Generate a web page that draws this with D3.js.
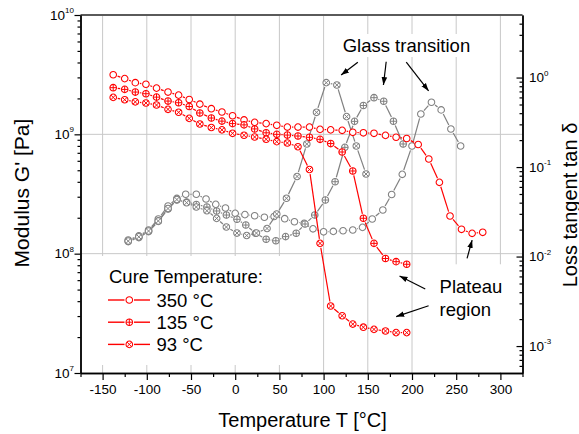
<!DOCTYPE html>
<html>
<head>
<meta charset="utf-8">
<script src="https://cdn.jsdelivr.net/npm/d3@7"></script>
<style>
  body { margin: 0; background: #fff; }
  svg { display: block; font-family: "Liberation Sans", Arial, sans-serif; }
</style>
</head>
<body>
<div id="chart"></div>
<script>
// storage modulus G' [Pa] (left axis) per cure temperature
const modTemp350 = [-138, -125, -113, -101, -89, -76, -64, -52, -40, -27, -15, -3, 10, 22, 35, 47, 59, 71,
  84, 96, 108, 121, 133, 145, 157, 170, 182, 194, 207, 219, 231, 243, 256, 268, 280];
const modG350 = [3.16e9, 2.93e9, 2.71e9, 2.63e9, 2.44e9, 2.26e9, 2.13e9, 1.96e9, 1.79e9, 1.64e9, 1.54e9,
  1.43e9, 1.32e9, 1.26e9, 1.23e9, 1.19e9, 1.15e9, 1.15e9, 1.15e9, 1.10e9, 1.09e9, 1.08e9, 1.04e9, 1.03e9,
  1.02e9, 9.8e8, 9.46e8, 9.23e8, 8.22e8, 6.21e8, 3.96e8, 2.07e8, 1.60e8, 1.48e8, 1.51e8];

const modTemp135 = [-138, -125, -113, -101, -89, -76, -64, -52, -40, -27, -15, -3, 10, 22, 35, 47, 59, 71,
  84, 96, 108, 121, 133, 145, 157, 170, 182, 194];
const modG135 = [2.46e9, 2.38e9, 2.26e9, 2.19e9, 2.05e9, 1.90e9, 1.84e9, 1.71e9, 1.51e9, 1.37e9, 1.29e9,
  1.23e9, 1.20e9, 1.11e9, 1.03e9, 1.00e9, 9.86e8, 9.68e8, 9.44e8, 9.08e8, 8.37e8, 7.11e8, 4.93e8, 1.98e8,
  1.22e8, 9.11e7, 8.57e7, 8.15e7];

const modTemp93 = [-138, -125, -113, -101, -89, -76, -64, -52, -40, -27, -15, -3, 10, 22, 35, 47, 59, 71,
  84, 96, 108, 121, 133, 145, 157, 170, 182, 194];
const modG93 = [2.04e9, 1.95e9, 1.87e9, 1.83e9, 1.76e9, 1.62e9, 1.53e9, 1.36e9, 1.22e9, 1.14e9, 1.09e9,
  1.02e9, 9.82e8, 9.50e8, 9.09e8, 8.68e8, 8.46e8, 7.87e8, 5.07e8, 1.22e8, 3.64e7, 3.02e7, 2.57e7, 2.42e7,
  2.32e7, 2.25e7, 2.18e7, 2.18e7];

// loss tangent tan delta (right axis)
const tanTemp350 = [-121, -109, -98, -87, -76, -66, -56, -44, -33, -22, -11, 0, 11, 22, 33, 44, 56, 67,
  78, 88, 100, 111, 122, 133, 144, 155, 167, 177, 189, 200, 210, 222, 233, 244, 255];
const tan350 = [0.0153, 0.0170, 0.0198, 0.0263, 0.0367, 0.0446, 0.0497, 0.0497, 0.0440, 0.0383, 0.0349,
  0.0304, 0.0294, 0.0286, 0.0275, 0.0280, 0.0265, 0.0245, 0.0235, 0.0204, 0.0189, 0.0191, 0.0194, 0.0198,
  0.0212, 0.0263, 0.0331, 0.0493, 0.0829, 0.172, 0.392, 0.530, 0.435, 0.266, 0.172];

const tanTemp135 = [-121, -109, -98, -87, -76, -66, -55, -44, -32, -21, -10, 2, 12, 23, 35, 46, 57, 69,
  79, 90, 102, 113, 124, 135, 145, 157, 168, 179, 190];
const tan135 = [0.0147, 0.0163, 0.0190, 0.0247, 0.0340, 0.0428, 0.0407, 0.0382, 0.0358, 0.0323, 0.0291,
  0.0261, 0.0225, 0.0182, 0.0156, 0.0150, 0.0167, 0.0182, 0.0231, 0.0291, 0.0428, 0.0686, 0.166, 0.324,
  0.487, 0.596, 0.543, 0.325, 0.181];

const tanTemp93 = [-121, -109, -98, -87, -76, -66, -55, -44, -32, -21, -10, 2, 13, 24, 36, 47, 58, 70,
  81, 92, 103, 115, 126, 137, 148];
const tan93 = [0.0149, 0.0166, 0.0193, 0.0250, 0.0344, 0.0434, 0.0400, 0.0358, 0.0325, 0.0267, 0.0214,
  0.0183, 0.0172, 0.0183, 0.0206, 0.0299, 0.0448, 0.0785, 0.181, 0.409, 0.877, 0.826, 0.366, 0.172, 0.0836];

// axes
const tempTicks = [-150, -100, -50, 0, 50, 100, 150, 200, 250, 300];
const tempMinorTicks = [-175, -125, -75, -25, 25, 75, 125, 175, 225, 275, 325];
const modTicks = [1e7, 1e8, 1e9, 1e10];
const modExponents = ["7", "8", "9", "10"];
const tanTicks = [1e-3, 1e-2, 1e-1, 1];
const tanExponents = ["-3", "-2", "-1", "0"];

const legendTitle = "Cure Temperature:";
const legendLabels = ["350 °C", "135 °C", "93 °C"];

// annotations: [T start, G start, T end, G end]
const glassArrows = [[138.7, 4.02e9, 119.8, 3.14e9], [170.8, 4.06e9, 167.7, 2.59e9], [193.5, 4.02e9, 218.8, 2.31e9]];
const plateauArrows = [[215.0, 5.06e7, 185.9, 6.5e7], [218.8, 3.66e7, 182.1, 2.97e7], [262.3, 9.14e7, 268.0, 1.30e8]];

const W = 579, H = 434;
const red = "#ff0000", gray = "#808080";

const svg = d3.select("#chart").append("svg").attr("width", W).attr("height", H);

const x = d3.scaleLinear().domain([-175, 325]).range([80.5, 522.5]);
const yG = d3.scaleLog().domain([1e7, 1e10]).range([373, 15]);
const yTan = d3.scaleLog().domain([5e-4, 5]).range([373, 15]);

// grid
const grid = svg.append("g");
grid.selectAll("line.v").data(tempTicks).join("line")
  .attr("x1", d => x(d)).attr("x2", d => x(d)).attr("y1", 15).attr("y2", 373)
  .attr("stroke", "#c8c8c8").attr("stroke-width", 1);
grid.selectAll("line.h").data([1e8, 1e9]).join("line")
  .attr("x1", 80.5).attr("x2", 522.5).attr("y1", d => yG(d)).attr("y2", d => yG(d))
  .attr("stroke", "#c8c8c8").attr("stroke-width", 1);

// legend background hides grid
svg.append("rect").attr("x", 82).attr("y", 256).attr("width", 218).attr("height", 109).attr("fill", "#fff");

const annot = svg.append("g");

// axes
svg.append("line").attr("x1", 80.5).attr("x2", 522.5).attr("y1", 15).attr("y2", 15)
  .attr("stroke", "#5a5a5a").attr("stroke-width", 2);

function styleAxis(g) {
  g.select(".domain").attr("stroke", "#000").attr("stroke-width", 1.4);
  g.selectAll(".tick line").attr("stroke", "#000").attr("stroke-width", 1.2);
}

const xAxis = svg.append("g").attr("transform", "translate(0,373)")
  .call(d3.axisBottom(x).tickValues(tempTicks).tickSize(7).tickSizeOuter(0).tickFormat(d => String(d)))
  .call(styleAxis);
xAxis.selectAll("text").attr("y", 21).attr("dy", null)
  .attr("font-size", 13.5).attr("fill", "#000");
svg.append("g").attr("transform", "translate(0,373)")
  .call(d3.axisBottom(x).tickValues(tempMinorTicks).tickSize(4).tickSizeOuter(0).tickFormat(""))
  .call(styleAxis);

const modMinor = yG.ticks().filter(d => !modTicks.includes(d));
svg.append("g").attr("transform", "translate(80.5,0)")
  .call(d3.axisLeft(yG).tickValues(modMinor).tickSize(3).tickSizeOuter(0).tickFormat(""))
  .call(styleAxis);
svg.append("g").attr("transform", "translate(80.5,0)")
  .call(d3.axisLeft(yG).tickValues(modTicks).tickSize(6).tickSizeOuter(0).tickFormat(""))
  .call(styleAxis);

const tanMinor = yTan.ticks().filter(d => !tanTicks.includes(d) && d > 5e-4 && d < 5);
svg.append("g").attr("transform", "translate(522.5,0)")
  .call(d3.axisRight(yTan).tickValues(tanMinor).tickSize(-3).tickSizeOuter(0).tickFormat(""))
  .call(styleAxis);
svg.append("g").attr("transform", "translate(522.5,0)")
  .call(d3.axisRight(yTan).tickValues(tanTicks).tickSize(-6).tickSizeOuter(0).tickFormat(""))
  .call(styleAxis);

// power-of-ten labels
modTicks.forEach((v, i) => {
  const t = svg.append("text").attr("x", 74).attr("y", yG(v) + 4.5)
    .attr("text-anchor", "end").attr("font-size", 13.5);
  t.append("tspan").text("10");
  t.append("tspan").attr("font-size", 8).attr("dy", -6.5).text(modExponents[i]);
});
tanTicks.forEach((v, i) => {
  const t = svg.append("text").attr("x", 529).attr("y", yTan(v) + 4.5).attr("font-size", 13.5);
  t.append("tspan").text("10");
  t.append("tspan").attr("font-size", 8).attr("dy", -6.5).text(tanExponents[i]);
});

// axis titles
svg.append("text").attr("x", 302.5).attr("y", 427).attr("text-anchor", "middle")
  .attr("font-size", 20).text("Temperature T [°C]");
svg.append("text").attr("transform", "translate(28.5,193) rotate(-90)").attr("text-anchor", "middle")
  .attr("font-size", 21).text("Modulus G' [Pa]");
svg.append("text").attr("transform", "translate(576.5,205) rotate(-90)").attr("text-anchor", "middle")
  .attr("font-size", 20).text("Loss tangent tan δ");

// markers
const R = 3.3;
function drawMarker(g, shape, color) {
  g.append("circle").attr("r", R).attr("fill", "#fff").attr("stroke", color).attr("stroke-width", 1.05);
  if (shape === "plus") {
    g.append("path").attr("d", `M${-R},0H${R}M0,${-R}V${R}`).attr("stroke", color).attr("stroke-width", 1);
  } else if (shape === "cross") {
    const c = R * 0.72;
    g.append("path").attr("d", `M${-c},${-c}L${c},${c}M${-c},${c}L${c},${-c}`)
      .attr("stroke", color).attr("stroke-width", 1);
  }
}

function drawSeries(temps, vals, yScale, color, shape) {
  const g = svg.append("g");
  const pts = temps.map((t, i) => [x(t), yScale(vals[i])]);
  const gap = 4.6;
  const segs = d3.pairs(pts).map(([a, b]) => {
    const dx = b[0] - a[0], dy = b[1] - a[1], len = Math.hypot(dx, dy);
    if (len <= 2 * gap) return null;
    const ux = dx / len, uy = dy / len;
    return [a[0] + ux * gap, a[1] + uy * gap, b[0] - ux * gap, b[1] - uy * gap];
  }).filter(Boolean);
  g.selectAll("line").data(segs).join("line")
    .attr("x1", d => d[0]).attr("y1", d => d[1]).attr("x2", d => d[2]).attr("y2", d => d[3])
    .attr("stroke", color).attr("stroke-width", 1.2);
  g.selectAll("g.mk").data(pts).join("g").attr("class", "mk")
    .attr("transform", d => `translate(${d[0]},${d[1]})`)
    .each(function () { drawMarker(d3.select(this), shape, color); });
}

drawSeries(tanTemp350, tan350, yTan, gray, "circle");
drawSeries(tanTemp135, tan135, yTan, gray, "plus");
drawSeries(tanTemp93, tan93, yTan, gray, "cross");
drawSeries(modTemp350, modG350, yG, red, "circle");
drawSeries(modTemp135, modG135, yG, red, "plus");
drawSeries(modTemp93, modG93, yG, red, "cross");

// annotations
svg.append("defs").append("marker").attr("id", "arrow")
  .attr("viewBox", "0 0 10 10").attr("refX", 10).attr("refY", 5)
  .attr("markerWidth", 8).attr("markerHeight", 8).attr("markerUnits", "userSpaceOnUse")
  .attr("orient", "auto")
  .append("path").attr("d", "M0,1.5L10,5L0,8.5Z").attr("fill", "#000");

const glassText = annot.append("text").attr("x", x(193.7)).attr("y", yG(10 ** 9.69))
  .attr("text-anchor", "middle").attr("font-size", 18.5).text("Glass transition");
const gb = glassText.node().getBBox();
annot.insert("rect", "text").attr("x", gb.x - 3).attr("y", gb.y - 1)
  .attr("width", gb.width + 6).attr("height", gb.height + 2).attr("fill", "#fff");

const plateauText = annot.append("text").attr("font-size", 18.5);
plateauText.append("tspan").attr("x", x(231.2)).attr("y", yG(10 ** 7.668)).text("Plateau");
plateauText.append("tspan").attr("x", x(231.2)).attr("y", yG(10 ** 7.48)).text("region");
const pb = plateauText.node().getBBox();
annot.insert("rect", "text:last-of-type").attr("x", pb.x - 12).attr("y", pb.y - 12)
  .attr("width", 521.5 - (pb.x - 12)).attr("height", 372 - (pb.y - 12)).attr("fill", "#fff");

svg.append("g").selectAll("line").data(glassArrows.concat(plateauArrows)).join("line")
  .attr("x1", d => x(d[0])).attr("y1", d => yG(d[1]))
  .attr("x2", d => x(d[2])).attr("y2", d => yG(d[3]))
  .attr("stroke", "#000").attr("stroke-width", 1.2).attr("marker-end", "url(#arrow)");

// legend
const legend = svg.append("g");
legend.append("text").attr("x", 109).attr("y", 282.5).attr("font-size", 18.5).text(legendTitle);
const shapes = ["circle", "plus", "cross"];
legendLabels.forEach((lab, i) => {
  const cy = 300 + i * 22.2;
  legend.append("line").attr("x1", 108).attr("x2", 124.5).attr("y1", cy).attr("y2", cy)
    .attr("stroke", red).attr("stroke-width", 1.4);
  legend.append("line").attr("x1", 134).attr("x2", 150).attr("y1", cy).attr("y2", cy)
    .attr("stroke", red).attr("stroke-width", 1.4);
  drawMarker(legend.append("g").attr("transform", `translate(129.3,${cy})`), shapes[i], red);
  legend.append("text").attr("x", 156.5).attr("y", cy + 6.6).attr("font-size", 18.5).text(lab);
});
</script>
</body>
</html>
